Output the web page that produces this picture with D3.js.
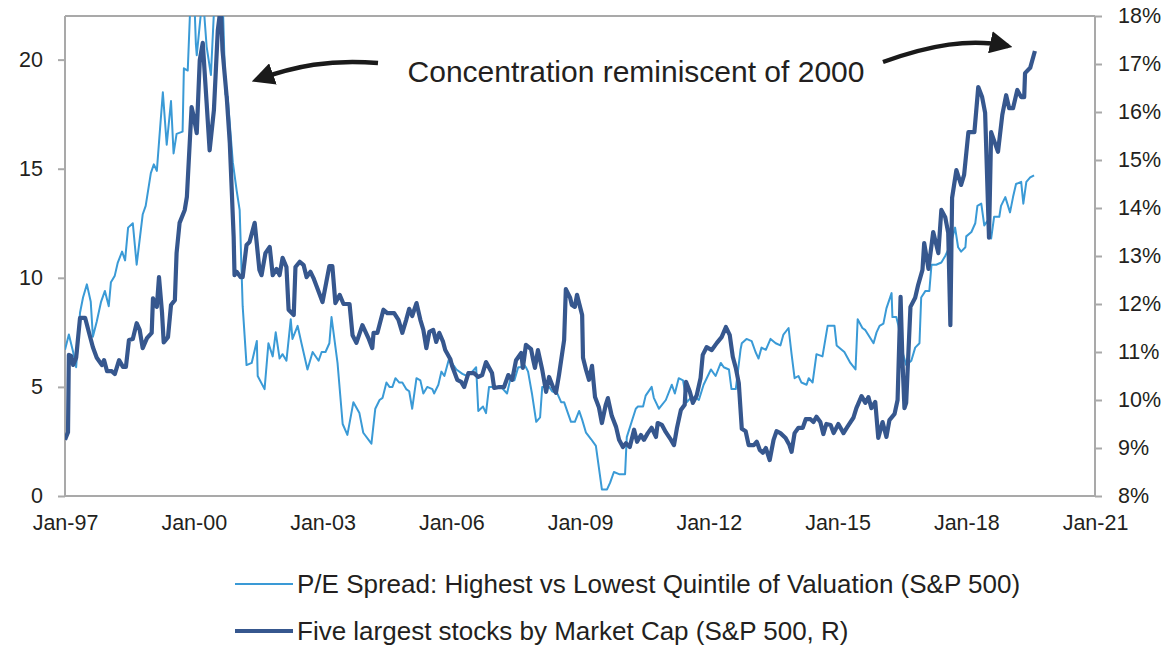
<!DOCTYPE html>
<html>
<head>
<meta charset="utf-8">
<script src="https://cdn.jsdelivr.net/npm/d3@7"></script>
<style>
  body { margin: 0; background: #fff; }
  svg { display: block; font-family: "Liberation Sans", Arial, sans-serif; }
</style>
</head>
<body>
<svg id="chart" width="1176" height="645"></svg>
<script>
// x axis labels (every 3 years, January)
var tickYears = [1997, 2000, 2003, 2006, 2009, 2012, 2015, 2018, 2021];
var leftTicks = [0, 5, 10, 15, 20];
var rightTicks = [8, 9, 10, 11, 12, 13, 14, 15, 16, 17, 18];

var seriesNames = [
  "P/E Spread: Highest vs Lowest Quintile of Valuation (S&P 500)",
  "Five largest stocks by Market Cap (S&P 500, R)"
];
var annotation = "Concentration reminiscent of 2000";

// P/E spread (left axis), dates as decimal years
var peDates = [1997.00,1997.09,1997.19,1997.26,1997.35,1997.42,1997.51,1997.60,1997.65,1997.74,1997.84,1997.93,
  1998.02,1998.07,1998.16,1998.23,1998.33,1998.40,1998.47,1998.58,1998.67,1998.81,1998.88,
  1999.00,1999.07,1999.14,1999.19,1999.28,1999.37,1999.47,1999.53,1999.60,1999.74,1999.77,1999.86,1999.93,
  2000.00,2000.05,2000.07,2000.21,2000.30,2000.40,2000.49,2000.67,2000.74,2000.79,2000.91,
  2001.00,2001.07,2001.14,2001.23,2001.35,2001.47,2001.49,2001.65,2001.74,2001.84,2001.91,
  2002.00,2002.07,2002.16,2002.26,2002.30,2002.42,2002.51,2002.65,2002.77,2002.91,2002.98,
  2003.07,2003.16,2003.21,2003.35,2003.47,2003.58,2003.72,2003.86,2003.95,
  2004.14,2004.23,2004.33,2004.40,2004.49,2004.56,2004.63,2004.70,2004.79,2004.86,2004.95,
  2005.02,2005.09,2005.19,2005.28,2005.35,2005.44,2005.56,2005.60,2005.70,2005.77,2005.84,2005.95,
  2006.05,2006.12,2006.26,2006.37,2006.49,2006.58,2006.63,2006.74,2006.81,2006.88,
  2007.00,2007.16,2007.30,2007.37,2007.47,2007.56,2007.63,2007.67,2007.74,2007.79,2007.88,2007.98,
  2008.07,2008.12,2008.21,2008.28,2008.35,2008.47,2008.56,2008.63,2008.70,2008.79,2008.88,2008.98,
  2009.05,2009.14,2009.26,2009.37,2009.44,2009.51,2009.63,2009.70,2009.79,2009.91,
  2010.05,2010.09,2010.30,2010.35,2010.47,2010.53,2010.67,2010.72,2010.84,
  2011.00,2011.14,2011.21,2011.30,2011.40,2011.49,2011.58,2011.70,2011.77,2011.88,
  2012.05,2012.16,2012.28,2012.35,2012.47,2012.53,2012.63,2012.74,2012.77,2012.88,
  2013.00,2013.09,2013.16,2013.23,2013.33,2013.44,2013.56,2013.67,2013.74,2013.86,2013.93,
  2014.00,2014.09,2014.16,2014.28,2014.33,2014.42,2014.51,2014.65,2014.77,2014.93,2014.98,
  2015.16,2015.30,2015.42,2015.47,2015.58,2015.65,2015.84,2015.91,2015.98,
  2016.07,2016.14,2016.26,2016.28,2016.37,2016.42,2016.53,2016.60,2016.72,2016.81,2016.91,2016.95,
  2017.05,2017.14,2017.19,2017.30,2017.42,2017.51,2017.63,2017.74,2017.81,2017.88,2017.98,
  2018.00,2018.12,2018.21,2018.26,2018.35,2018.42,2018.49,2018.58,2018.65,2018.77,2018.81,2018.91,
  2019.02,2019.09,2019.16,2019.28,2019.33,2019.40,2019.49,2019.58];
var peValues = [6.7,7.4,6.6,5.9,8.4,9.1,9.7,8.9,7.3,8.0,8.9,9.4,
  8.7,9.8,10.1,10.7,11.2,10.8,12.3,12.5,10.6,12.9,13.3,
  14.8,15.2,14.9,16.2,18.5,16.1,18.1,15.7,16.6,16.7,19.6,19.5,23.0,
  23.5,20.7,20.2,23.0,20.6,19.3,23.0,23.0,18.4,18.3,15.3,
  14.0,13.1,8.7,6.0,6.1,7.1,5.5,4.9,7.0,6.4,7.5,
  6.3,6.5,6.2,8.1,7.2,7.8,7.0,5.8,6.6,6.2,6.6,
  6.6,7.0,8.2,6.1,3.3,2.8,4.3,3.8,2.9,
  2.4,4.0,4.4,4.5,5.2,5.0,5.0,5.4,5.2,5.2,4.9,
  4.8,4.0,5.4,5.3,4.7,5.0,4.9,4.7,5.1,5.7,5.5,6.3,
  6.0,5.8,5.6,5.5,5.7,5.9,3.9,4.1,3.8,5.0,
  5.0,5.0,4.7,5.3,5.3,5.9,5.9,6.1,5.9,5.7,4.7,3.4,
  3.6,5.0,5.0,5.0,4.8,4.7,4.3,4.3,3.9,3.4,3.4,3.9,
  3.5,2.9,2.6,2.3,1.3,0.3,0.3,0.6,1.1,1.0,
  1.0,2.7,4.0,4.1,4.1,4.6,5.0,4.5,4.0,
  4.4,5.1,4.7,5.4,5.3,4.3,4.5,4.5,4.4,5.1,
  5.8,5.5,6.1,5.9,5.8,4.9,4.9,6.7,7.0,7.2,
  7.1,6.6,6.3,6.8,6.7,7.2,7.0,6.9,7.4,7.7,6.5,
  5.4,5.5,5.2,5.1,5.4,5.2,6.5,6.4,7.8,7.8,6.9,
  6.6,6.1,5.8,8.1,7.7,7.6,7.0,7.5,7.8,
  7.9,8.6,9.3,8.2,8.2,7.8,6.5,6.0,6.2,6.8,7.0,9.1,
  9.4,9.4,10.6,10.6,10.7,11.0,11.5,12.3,11.4,11.2,11.4,
  11.9,12.1,12.5,13.3,13.4,12.4,12.6,11.8,12.8,12.8,13.3,13.7,
  13.0,13.7,14.3,14.4,13.4,14.4,14.6,14.7];

// Weight of five largest stocks in S&P 500, % (right axis)
var capDates = [1997.00,1997.07,1997.09,1997.14,1997.19,1997.26,1997.30,1997.35,1997.47,1997.56,1997.65,1997.74,1997.86,1997.91,1997.98,
  1998.09,1998.16,1998.26,1998.35,1998.42,1998.49,1998.58,1998.67,1998.74,1998.81,1998.91,
  1999.02,1999.05,1999.14,1999.19,1999.26,1999.30,1999.40,1999.47,1999.56,1999.60,1999.67,1999.79,1999.84,1999.95,
  2000.00,2000.07,2000.14,2000.21,2000.30,2000.37,2000.47,2000.56,2000.63,2000.67,2000.77,2000.84,2000.93,2000.95,
  2001.00,2001.09,2001.14,2001.23,2001.30,2001.42,2001.53,2001.58,2001.67,2001.77,2001.84,2001.93,
  2002.00,2002.07,2002.16,2002.21,2002.33,2002.37,2002.47,2002.56,2002.63,2002.72,2002.79,2002.88,
  2003.00,2003.09,2003.16,2003.23,2003.30,2003.40,2003.49,2003.63,2003.70,2003.79,2003.93,
  2004.07,2004.16,2004.19,2004.28,2004.42,2004.51,2004.67,2004.77,2004.86,2004.95,
  2005.02,2005.09,2005.19,2005.28,2005.35,2005.42,2005.49,2005.58,2005.65,2005.72,2005.81,2005.86,2005.98,
  2006.02,2006.14,2006.23,2006.30,2006.40,2006.53,2006.63,2006.72,2006.81,2006.95,
  2007.00,2007.12,2007.23,2007.33,2007.42,2007.51,2007.63,2007.67,2007.74,2007.86,2007.91,2007.95,
  2008.02,2008.12,2008.21,2008.28,2008.37,2008.44,2008.51,2008.63,2008.67,2008.77,2008.81,2008.88,2008.93,
  2009.05,2009.07,2009.14,2009.21,2009.28,2009.35,2009.44,2009.51,2009.60,2009.65,2009.74,2009.84,2009.91,
  2010.00,2010.07,2010.16,2010.26,2010.33,2010.42,2010.49,2010.58,2010.67,2010.77,2010.81,2010.91,
  2011.00,2011.12,2011.19,2011.26,2011.35,2011.44,2011.47,2011.56,2011.63,2011.72,2011.81,2011.86,2011.95,
  2012.07,2012.19,2012.30,2012.40,2012.49,2012.56,2012.63,2012.70,2012.77,2012.86,2012.93,
  2013.05,2013.12,2013.19,2013.26,2013.33,2013.42,2013.51,2013.58,2013.67,2013.79,2013.88,2013.93,
  2014.00,2014.09,2014.19,2014.26,2014.37,2014.44,2014.51,2014.60,2014.67,2014.74,2014.84,2014.91,
  2015.02,2015.14,2015.23,2015.37,2015.44,2015.56,2015.65,2015.72,2015.79,2015.88,2015.95,
  2016.05,2016.14,2016.21,2016.33,2016.40,2016.47,2016.51,2016.56,2016.60,2016.70,2016.81,2016.88,2016.98,
  2017.02,2017.12,2017.23,2017.35,2017.42,2017.51,2017.58,2017.63,2017.67,2017.77,2017.88,2017.95,
  2018.05,2018.19,2018.28,2018.37,2018.44,2018.53,2018.58,2018.74,2018.84,2018.93,
  2019.00,2019.09,2019.19,2019.28,2019.35,2019.37,2019.49,2019.60];
var capValues = [9.17,9.33,10.94,10.92,10.73,10.88,11.25,11.71,11.71,11.40,11.10,10.88,10.73,10.83,10.60,
  10.60,10.54,10.83,10.69,10.69,11.25,11.27,11.60,11.46,11.08,11.29,
  11.40,12.12,11.94,12.56,11.83,11.20,11.31,11.98,12.08,13.06,13.69,13.96,14.23,16.10,
  15.90,15.56,17.08,17.44,16.19,15.20,16.04,17.70,18.20,17.29,16.29,15.35,13.40,12.60,
  12.67,12.56,12.56,13.23,13.29,13.69,12.71,12.60,13.06,13.19,12.60,12.73,
  12.60,12.96,12.77,11.88,11.77,12.77,12.88,12.81,12.56,12.67,12.54,12.33,
  12.04,12.46,12.79,12.79,12.02,12.19,12.00,12.00,11.35,11.19,11.56,
  11.29,11.08,11.40,11.40,11.88,11.81,11.81,11.67,11.40,11.67,
  11.90,11.75,12.02,11.67,11.46,11.08,11.42,11.46,11.21,11.40,11.21,11.04,10.85,
  10.71,10.42,10.38,10.27,10.56,10.56,10.48,10.52,10.79,10.56,
  10.25,10.27,10.27,10.52,10.42,10.83,10.98,10.67,11.15,11.06,10.83,10.67,
  11.04,10.63,10.17,10.48,10.27,10.15,10.52,11.25,12.31,12.13,11.98,11.94,12.19,
  11.77,10.88,10.63,10.42,10.71,10.06,9.85,9.52,9.90,10.04,9.67,9.44,9.17,
  9.02,9.10,9.02,9.38,9.13,9.27,9.17,9.31,9.42,9.23,9.52,9.48,
  9.33,9.17,9.06,9.42,9.79,9.90,10.38,10.17,9.94,10.10,10.46,10.94,11.10,
  11.04,11.19,11.31,11.52,11.35,10.90,10.67,10.35,9.40,9.35,9.06,
  9.06,9.13,8.96,8.90,9.00,8.75,9.17,9.35,9.31,9.21,9.06,8.92,
  9.31,9.42,9.42,9.60,9.60,9.54,9.65,9.54,9.29,9.50,9.48,9.31,
  9.50,9.31,9.44,9.63,9.83,10.08,9.94,10.06,9.83,9.96,9.21,
  9.54,9.23,9.58,9.71,10.00,12.15,10.90,9.83,9.94,11.94,12.13,12.40,12.71,
  13.27,12.73,13.50,13.06,13.96,13.81,13.48,11.56,14.21,14.79,14.48,14.69,
  15.58,15.58,16.52,16.31,15.98,13.38,15.58,15.17,15.94,16.35,
  16.08,16.08,16.46,16.31,16.31,16.81,16.92,17.27];

var lightBlue = "#3a9ad6";
var darkBlue = "#36578e";
var axisGrey = "#a9a9a9";
var textColor = "#231f20";

var svg = d3.select("#chart");
var plotLeft = 65, plotRight = 1095, plotTop = 16, plotBottom = 496;

var x = d3.scaleLinear().domain([1997, 2021]).range([plotLeft, plotRight]);
var yL = d3.scaleLinear().domain([0, 22]).range([plotBottom, plotTop]);
var yR = d3.scaleLinear().domain([8, 18]).range([plotBottom, plotTop]);

var defs = svg.append("defs");
defs.append("clipPath").attr("id", "plot-clip")
  .append("rect")
  .attr("x", plotLeft).attr("y", plotTop)
  .attr("width", plotRight - plotLeft).attr("height", plotBottom - plotTop);

// top border of the plot frame
svg.append("line")
  .attr("x1", plotLeft).attr("x2", plotRight)
  .attr("y1", plotTop).attr("y2", plotTop)
  .attr("stroke", axisGrey).attr("stroke-width", 2);

// left axis
var gL = svg.append("g")
  .attr("transform", "translate(" + plotLeft + ",0)")
  .call(d3.axisLeft(yL).tickValues(leftTicks).tickSize(7).tickPadding(15));
// right axis
var gR = svg.append("g")
  .attr("transform", "translate(" + plotRight + ",0)")
  .call(d3.axisRight(yR).tickValues(rightTicks).tickSize(7).tickPadding(16)
    .tickFormat(function(d) { return d + "%"; }));
// bottom axis
var gB = svg.append("g")
  .attr("transform", "translate(0," + plotBottom + ")")
  .call(d3.axisBottom(x).tickValues(tickYears).tickSize(0).tickPadding(19)
    .tickFormat(function(d) { return "Jan-" + String(d).slice(2); }));

[gL, gR, gB].forEach(function(g) {
  g.select(".domain").attr("stroke", axisGrey).attr("stroke-width", 2);
  g.selectAll(".tick line").attr("stroke", axisGrey).attr("stroke-width", 2);
  g.selectAll(".tick text")
    .attr("fill", textColor)
    .style("font-size", "21.5px")
    .style("font-family", "Liberation Sans, Arial, sans-serif");
});
gL.select(".domain").attr("d", "M0," + plotTop + "V" + plotBottom);
gR.select(".domain").attr("d", "M0," + plotTop + "V" + plotBottom);
gB.select(".domain").attr("d", "M" + plotLeft + ",0H" + plotRight);

// series lines
var peLine = d3.line()
  .x(function(d, i) { return x(peDates[i]); })
  .y(function(d) { return yL(d); });
var capLine = d3.line()
  .x(function(d, i) { return x(capDates[i]); })
  .y(function(d) { return yR(d); });

var plot = svg.append("g").attr("clip-path", "url(#plot-clip)");
plot.append("path")
  .datum(peValues)
  .attr("d", peLine)
  .attr("fill", "none")
  .attr("stroke", lightBlue)
  .attr("stroke-width", 2)
  .attr("stroke-linejoin", "round");
plot.append("path")
  .datum(capValues)
  .attr("d", capLine)
  .attr("fill", "none")
  .attr("stroke", darkBlue)
  .attr("stroke-width", 4.2)
  .attr("stroke-linejoin", "round");

// annotation text + curved arrows
svg.append("text")
  .attr("x", 636).attr("y", 82)
  .attr("text-anchor", "middle")
  .attr("fill", textColor)
  .style("font-size", "30px")
  .text(annotation);

defs.append("marker")
  .attr("id", "head")
  .attr("viewBox", "0 0 10 10")
  .attr("refX", 8).attr("refY", 5)
  .attr("markerWidth", 5).attr("markerHeight", 5)
  .attr("markerUnits", "strokeWidth")
  .attr("orient", "auto")
  .append("path")
  .attr("d", "M0,0L10,5L0,10Z")
  .attr("fill", "#1a1a1a");

svg.append("path")
  .attr("d", "M378,63 C330,59 295,66 256,80")
  .attr("fill", "none").attr("stroke", "#1a1a1a").attr("stroke-width", 4.5)
  .attr("marker-end", "url(#head)");
svg.append("path")
  .attr("d", "M883,62 C930,45 970,38 1008,46")
  .attr("fill", "none").attr("stroke", "#1a1a1a").attr("stroke-width", 4.5)
  .attr("marker-end", "url(#head)");

// legend
var legendRows = svg.append("g").selectAll("g")
  .data(seriesNames)
  .enter()
  .append("g")
  .attr("transform", function(d, i) { return "translate(235," + (584 + i * 47) + ")"; });
legendRows.append("line")
  .attr("x1", 0).attr("x2", 58)
  .attr("stroke", function(d, i) { return i === 0 ? lightBlue : darkBlue; })
  .attr("stroke-width", function(d, i) { return i === 0 ? 2 : 4.2; });
legendRows.append("text")
  .attr("x", 62).attr("y", 9)
  .attr("fill", textColor)
  .style("font-size", "26px")
  .text(function(d) { return d; });
</script>
</body>
</html>
